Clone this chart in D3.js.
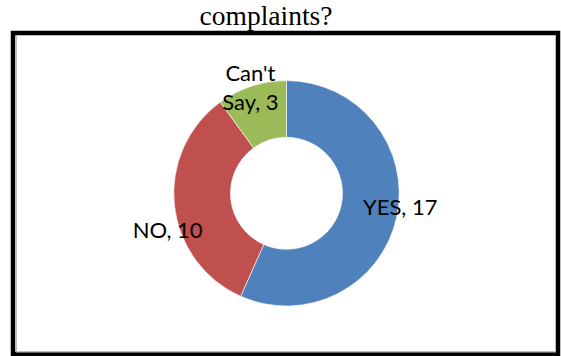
<!DOCTYPE html>
<html>
<head>
<meta charset="utf-8">
<script src="https://cdn.jsdelivr.net/npm/d3@7"></script>
<style>
  html, body { margin: 0; padding: 0; background: #ffffff; }
  svg { display: block; }
</style>
</head>
<body>
<svg id="chart" width="561" height="356"></svg>
<script>
// Survey answers
const categories = ["YES", "NO", "Can't Say"];
const values = [17, 10, 3];
const colors = ["#4F81BD", "#C0504D", "#9BBB59"];
const titleText = "complaints?";

const svg = d3.select("#chart");

// Outer frame and inner plot border
svg.append("rect")
  .attr("x", 13).attr("y", 33)
  .attr("width", 545).attr("height", 321)
  .attr("fill", "#ffffff")
  .attr("stroke", "#000000").attr("stroke-width", 4.5);
svg.append("rect")
  .attr("x", 16.5).attr("y", 35.5)
  .attr("width", 539).attr("height", 316.5)
  .attr("fill", "none")
  .attr("stroke", "#bdbdbd").attr("stroke-width", 1);

// Title (last line visible above the frame)
svg.append("text")
  .attr("x", 266).attr("y", 24.5)
  .attr("text-anchor", "middle")
  .attr("font-family", "'Liberation Serif', 'Times New Roman', serif")
  .attr("font-size", 27.5)
  .attr("fill", "#000")
  .text(titleText);

// Donut
const cx = 286.5, cy = 193.3;
const outerR = 112.7, innerR = 56;

const pie = d3.pie().sort(null).value(d => d.value);
const arc = d3.arc().innerRadius(innerR).outerRadius(outerR);

const data = categories.map((c, i) => ({ name: c, value: values[i], color: colors[i] }));
const arcs = pie(data);

const g = svg.append("g").attr("transform", `translate(${cx},${cy})`);

g.selectAll("path.slice")
  .data(arcs)
  .join("path")
  .attr("class", "slice")
  .attr("d", arc)
  .attr("fill", d => d.data.color)
  .attr("stroke", "#ffffff")
  .attr("stroke-width", 0.6);

// Data labels: offsets from each slice's centroid
const labelLayout = {
  "YES":       { dx: -6,  dy: 4,   anchor: "start", lines: d => [`${d.data.name}, ${d.data.value}`] },
  "NO":        { dx: 0,   dy: 36,  anchor: "end",   lines: d => [`${d.data.name}, ${d.data.value}`] },
  "Can't Say": { dx: -10, dy: -32, anchor: "middle", lines: d => ["Can't", `Say, ${d.data.value}`] }
};

const labelArc = d3.arc().innerRadius((innerR + outerR) / 2).outerRadius((innerR + outerR) / 2);

arcs.forEach(d => {
  const L = labelLayout[d.data.name];
  const [x, y] = labelArc.centroid(d);
  const t = g.append("text")
    .attr("x", x + L.dx)
    .attr("y", y + L.dy)
    .attr("text-anchor", L.anchor)
    .attr("font-family", "Lato, 'Open Sans', sans-serif")
    .attr("font-size", 22)
    .attr("fill", "#000");
  L.lines(d).forEach((s, i) => {
    t.append("tspan")
      .attr("x", x + L.dx)
      .attr("dy", i === 0 ? 0 : 29)
      .text(s);
  });
});
</script>
</body>
</html>
